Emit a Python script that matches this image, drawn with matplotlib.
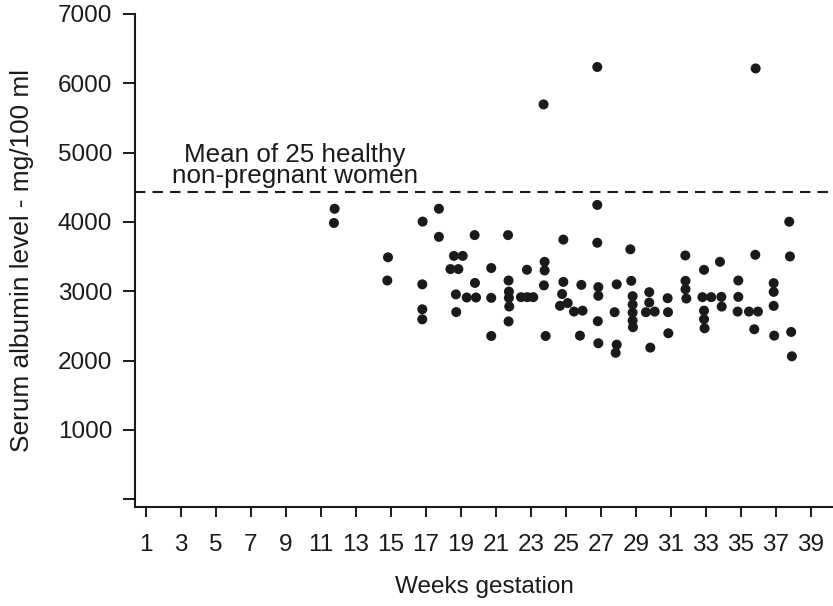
import matplotlib
matplotlib.use("Agg")
import matplotlib.pyplot as plt

plt.rcParams["font.family"] = ["Liberation Sans", "DejaVu Sans"]

# Serum albumin by week of gestation (weeks carry the small horizontal
# spread used to separate coincident readings)
weeks = [
    11.78, 11.74, 14.83, 14.79, 16.81, 16.79, 16.79, 16.79, 17.74, 17.74,
    18.60, 19.10, 18.40, 18.85, 18.71, 18.73, 19.78, 19.80, 19.33, 19.86,
    20.73, 20.73, 20.73, 21.69, 21.72, 21.74, 21.74, 21.76, 21.72, 22.43,
    22.79, 23.13, 22.77, 23.78, 23.78, 23.74, 23.84, 23.72, 24.85, 24.85,
    24.78, 24.66, 25.10, 25.46, 25.95, 25.88, 25.80, 26.79, 26.79, 26.79,
    26.85, 26.85, 26.82, 26.85, 27.90, 27.78, 27.90, 27.84, 28.68, 28.73,
    28.81, 28.81, 28.81, 28.81, 28.83, 29.76, 29.76, 29.57, 30.07, 29.82,
    30.81, 30.83, 30.85, 31.82, 31.83, 31.83, 31.88, 32.80, 33.30, 32.89,
    33.80, 32.89, 32.89, 32.92, 33.88, 33.90, 34.85, 34.85, 34.81, 35.46,
    35.97, 35.82, 35.76, 35.84, 36.87, 36.87, 36.87, 36.90, 37.76, 37.80,
    37.87, 37.91,
]
albumin = [
    4190, 3985, 3490, 3155, 4005, 3100, 2740, 2595, 4190, 3785,
    3510, 3510, 3320, 3320, 2955, 2700, 3810, 3120, 2910, 2910,
    3335, 2905, 2355, 3810, 3155, 2995, 2905, 2780, 2565, 2915,
    2915, 2915, 3310, 3425, 3300, 3085, 2355, 5695, 3745, 3135,
    2960, 2790, 2830, 2707, 2720, 3092, 2360, 6235, 4245, 3700,
    3060, 2935, 2568, 2250, 3100, 2698, 2230, 2112, 3605, 3150,
    2929, 2808, 2692, 2577, 2481, 2987, 2837, 2698, 2707, 2187,
    2900, 2698, 2394, 3516, 3150, 3030, 2895, 2915, 2915, 3309,
    3425, 2721, 2597, 2466, 2919, 2779, 3155, 2919, 2707, 2707,
    2707, 3526, 2452, 6214, 3117, 2991, 2789, 2360, 4003, 3502,
    2413, 2062,
]

reference_mean = 4430
reference_text = "Mean of 25 healthy\nnon-pregnant women"

x_ticks = list(range(1, 40, 2))
y_ticks = list(range(0, 7001, 1000))
y_tick_labels = [""] + [str(v) for v in y_ticks[1:]]

FS = 17.5
INK = "#1a1a1a"

fig = plt.figure(figsize=(8.33, 6.06), dpi=100)
ax = fig.add_axes([0.162, 0.163, 0.838, 0.814])

ax.scatter(weeks, albumin, s=52, color=INK, edgecolors="none",
           zorder=3, clip_on=False)

ax.axhline(reference_mean, color=INK, lw=1.5, dashes=(5, 3.4))
ax.text(9.5, 4566, reference_text, ha="center", va="baseline",
        multialignment="center", linespacing=0.84,
        fontsize=18.7, color=INK)

ax.set_xlim(0.37, 40.26)
ax.set_ylim(-115, 7000)
ax.set_xticks(x_ticks)
ax.set_yticks(y_ticks)
ax.set_yticklabels(y_tick_labels)

for side in ("top", "right"):
    ax.spines[side].set_visible(False)
for side in ("left", "bottom"):
    ax.spines[side].set_linewidth(1.5)
    ax.spines[side].set_color(INK)

ax.tick_params(axis="y", direction="out", length=8.5, width=1.4,
               pad=8, labelsize=FS, colors=INK)
ax.tick_params(axis="x", direction="out", length=7.5, width=1.4,
               pad=12, labelsize=FS, colors=INK)

ax.set_xlabel("Weeks gestation", fontsize=FS, color=INK, labelpad=14)
ax.set_ylabel("Serum albumin level - mg/100 ml", fontsize=18.9,
              color=INK, labelpad=17)

fig.savefig("out.png", dpi=100)
